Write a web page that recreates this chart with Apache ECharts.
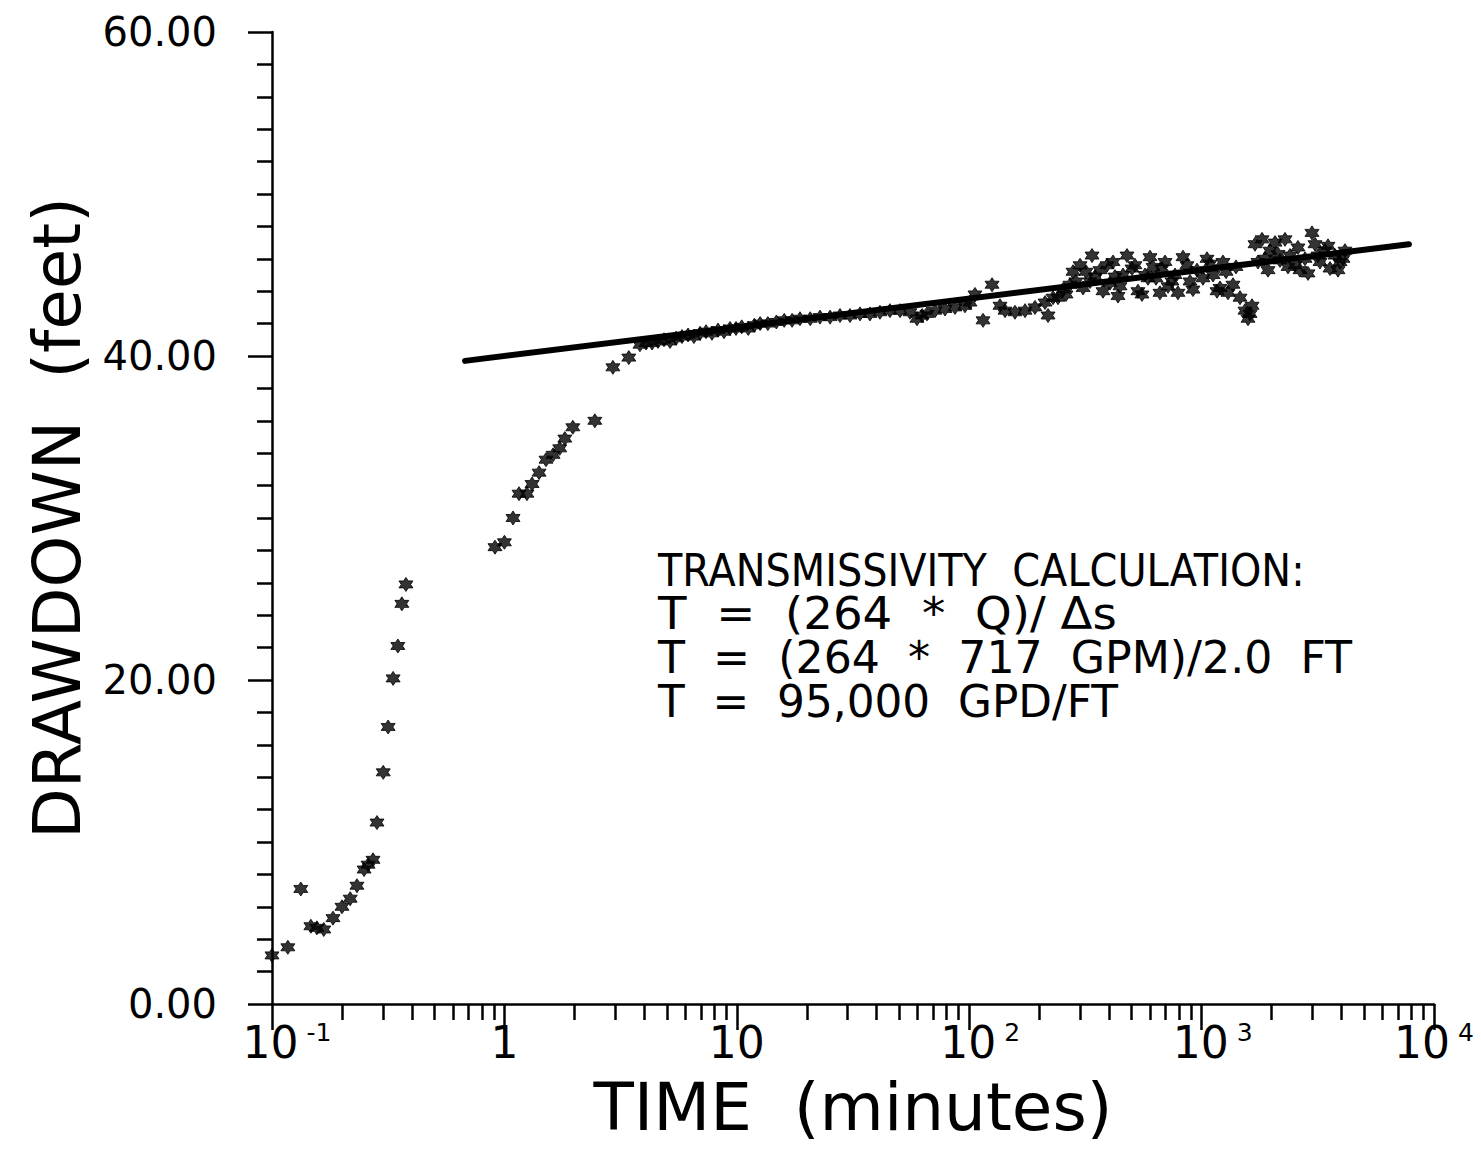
<!DOCTYPE html>
<html>
<head>
<meta charset="utf-8">
<script src="https://cdn.jsdelivr.net/npm/echarts@6/dist/echarts.min.js"></script>
<style>
html,body{margin:0;padding:0;background:#fff;overflow:hidden;}
#chart{width:1481px;height:1149px;}
</style>
</head>
<body>
<div id="chart"></div>
<script>
// ---------------- DATA (time in minutes, drawdown in feet) ----------------
const earlyData = [[0.100,3.0],[0.117,3.5],[0.133,7.1],[0.147,4.8],[0.156,4.7],[0.167,4.6],[0.183,5.3],[0.200,6.0],[0.217,6.5],[0.232,7.3],[0.249,8.3],[0.259,8.6],[0.272,8.9],[0.283,11.2],[0.301,14.3],[0.316,17.1],[0.332,20.1],[0.348,22.1],[0.362,24.7],[0.377,25.9]];
const risingData = [[0.911,28.2],[1.00,28.5],[1.089,30.0],[1.156,31.5],[1.25,31.5],[1.315,32.1],[1.41,32.8],[1.51,33.6],[1.62,33.9],[1.73,34.3],[1.82,34.9],[1.97,35.6],[2.45,36.0],[2.93,39.3],[3.43,39.9]];
const stableData = [[3.83,40.7],[4.07,40.8],[4.32,40.8],[4.58,40.9],[4.86,41.0],[5.16,40.9],[5.48,41.1],[5.81,41.2],[6.17,41.3],[6.54,41.2],[6.95,41.4],[7.37,41.5],[7.82,41.4],[8.30,41.6],[8.81,41.5],[9.35,41.7],[9.92,41.7],[10.5,41.8],[11.2,41.7],[11.9,41.9],[12.6,42.0],[13.6,42.0],[14.8,42.1],[16.0,42.2],[17.3,42.2],[18.7,42.3],[20.7,42.3],[22.8,42.4],[25.2,42.4],[27.8,42.5],[30.7,42.5],[33.9,42.6],[37.4,42.6],[41.3,42.7],[45.6,42.8],[50.4,42.8],[55.6,42.7],[59.6,42.3],[62.7,42.5],[65.8,42.6],[71.3,42.8],[78.7,42.9],[86.9,43.0],[95.9,43.1],[100.8,43.3],[105.9,43.8],[114.7,42.2]];
const lateData = [[125.4,44.4],[135.7,43.1],[142.6,42.8],[157.4,42.7],[173.9,42.8],[191.9,43.0],[212.0,43.3],[218.4,42.5],[229.5,43.6],[241.1,43.6],[253.3,44.1],[261,43.8],[271.5,44.4],[279.7,45.2],[288,44.6],[299.9,45.6],[309,44.2],[318.2,45.2],[331.1,44.6],[337.7,46.2],[347.8,44.9],[365.5,45.3],[376.5,44.0],[391.7,45.6],[403.5,44.5],[415.7,45.8],[424.0,44.9],[436.8,43.7],[445.6,44.3],[459,45.0],[477.5,46.2],[501.7,45.4],[516.8,45.6],[532.4,44.0],[554,43.8],[570.8,45.0],[588,44.8],[599.8,46.1],[618,45.5],[636.6,44.8],[662,43.9],[675.5,45.4],[696,45.8],[717.0,44.3],[746,44.6],[768.6,45.0],[791,43.9],[831.8,46.1],[865,45.6],[891.5,44.6],[918,44.1],[955.4,45.3],[1014,44.8],[1055,46.0],[1087,45.7],[1120,45.0],[1165,44.0],[1200,44.2],[1236,45.8],[1274,45.2],[1299,43.9],[1365,44.4],[1406,45.5],[1463,43.6],[1537,42.8],[1584,42.3],[1616,42.6],[1648,43.1],[1698,46.9],[1748,45.8],[1820,47.2],[1874,46.0],[1931,45.3],[1969,46.5],[2070,47.0],[2132,46.3],[2174,45.9],[2285,47.2],[2354,45.5],[2401,46.2],[2523,45.6],[2598,46.7],[2651,45.3],[2786,46.0],[2870,45.1],[2985,47.6],[3076,46.9],[3169,46.2],[3232,45.8],[3396,46.5],[3499,46.8],[3569,45.4],[3750,46.2],[3863,45.3],[3940,45.8],[4059,46.0],[4140,46.5]];
const trendLine = [[0.677,39.7],[7800,46.9]];

const xMajorTicks = [0.1, 1, 10, 100, 1000, 10000];
const xMinorTicks = [0.2,0.3,0.4,0.5,0.6,0.7,0.8,0.9, 2,3,4,5,6,7,8,9, 20,30,40,50,60,70,80,90, 200,300,400,500,600,700,800,900, 2000,3000,4000,5000,6000,7000,8000,9000];
const yTicks = [0, 20, 40, 60];

const xTitle = 'TIME  (minutes)';
const yTitle = 'DRAWDOWN  (feet)';
const noteLines = ['TRANSMISSIVITY  CALCULATION:', 'T  =  (264  *  Q)/ Δs', 'T  =  (264  *  717  GPM)/2.0  FT', 'T  =  95,000  GPD/FT'];

// ---------------- STYLE / LAYOUT ----------------
const FONT = '"DejaVu Sans", "Liberation Sans", sans-serif';
const INK = '#000';
const STAR = 'path://M0,-10L2.89,-5L8.66,-5L5.77,0L8.66,5L2.89,5L0,10L-2.89,5L-8.66,5L-5.77,0L-8.66,-5L-2.89,-5Z';

const chart = echarts.init(document.getElementById('chart'), null, {renderer: 'svg', width: 1481, height: 1149});

function xLabel(v) {
  const e = Math.round(Math.log10(v));
  if (e === 0) return '{b|1}';
  if (e === 1) return '{b|10}';
  if (e < 0) return '{pn|10}{s|-' + (-e) + '}';
  if (e >= 4) return '{b|10}{s|' + e + '}';
  return '{pp|10}{s|' + e + '}';
}

// annotation lines, horizontally condensed to match target widths
const noteLeft = 658;
const noteY = [571, 614, 658, 701];
const noteWidths = [647, 459, 694, 460];
const noteFont = '44px "DejaVu Sans"';
const mctx = document.createElement('canvas').getContext('2d');
mctx.font = noteFont;
const noteGraphics = noteLines.map((t, i) => {
  const w = mctx.measureText(t).width || noteWidths[i];
  return {
    type: 'text', x: noteLeft, y: noteY[i], scaleX: noteWidths[i] / w, scaleY: 1,
    style: {text: t, font: noteFont, fill: INK, align: 'left', verticalAlign: 'middle'}
  };
});

const lineW = 2.5;
const option = {
  animation: false,
  backgroundColor: '#fff',
  grid: {left: 272, right: 47, top: 32, bottom: 145, containLabel: false, outerBoundsMode: 'none'},
  xAxis: [{
    type: 'log', logBase: 10, min: 0.1, max: 10000, position: 'bottom',
    axisLine: {show: true, lineStyle: {color: INK, width: lineW}},
    axisTick: {show: true, inside: false, length: 26, customValues: xMajorTicks, lineStyle: {color: INK, width: lineW}},
    axisLabel: {
      show: true, customValues: xMajorTicks, formatter: xLabel, margin: 16, color: INK,
      rich: {
        b: {fontSize: 44, fontFamily: FONT, color: INK, lineHeight: 44},
        pp: {fontSize: 44, fontFamily: FONT, color: INK, lineHeight: 44, padding: [0, 0, 0, 22]},
        pn: {fontSize: 44, fontFamily: FONT, color: INK, lineHeight: 44, padding: [0, 0, 0, 30]},
        s: {fontSize: 25, fontFamily: FONT, color: INK, lineHeight: 25, verticalAlign: 'top', padding: [0, 0, 0, 8]}
      }
    },
    splitLine: {show: false},
    name: xTitle, nameLocation: 'middle', nameGap: 70,
    nameTextStyle: {fontSize: 66, fontFamily: FONT, color: INK}
  }, {
    type: 'log', logBase: 10, min: 0.1, max: 10000, position: 'bottom',
    axisLine: {show: false},
    axisTick: {show: true, inside: false, length: 16, customValues: xMinorTicks, lineStyle: {color: INK, width: lineW}},
    axisLabel: {show: false},
    splitLine: {show: false}
  }],
  yAxis: {
    type: 'value', min: 0, max: 60, interval: 20,
    axisLine: {show: true, onZero: false, lineStyle: {color: INK, width: lineW}},
    axisTick: {show: true, inside: false, length: 24, lineStyle: {color: INK, width: lineW}},
    minorTick: {show: true, splitNumber: 10, length: 15, lineStyle: {color: INK, width: lineW}},
    axisLabel: {formatter: v => v.toFixed(2), fontSize: 40, fontFamily: FONT, color: INK, margin: 55},
    splitLine: {show: false},
    name: yTitle, nameLocation: 'middle', nameGap: 182, nameRotate: 90,
    nameTextStyle: {fontSize: 66, fontFamily: FONT, color: INK}
  },
  series: [{
    type: 'line', xAxisIndex: 0, data: trendLine, symbol: 'none', z: 3,
    lineStyle: {color: INK, width: 6, cap: 'round'}
  }, {
    type: 'scatter', xAxisIndex: 0, symbol: STAR, symbolSize: 14, z: 4,
    itemStyle: {color: INK, borderColor: INK, borderWidth: 1},
    data: [].concat(earlyData, risingData, stableData, lateData)
  }],
  graphic: noteGraphics
};
chart.setOption(option);
</script>
</body>
</html>
